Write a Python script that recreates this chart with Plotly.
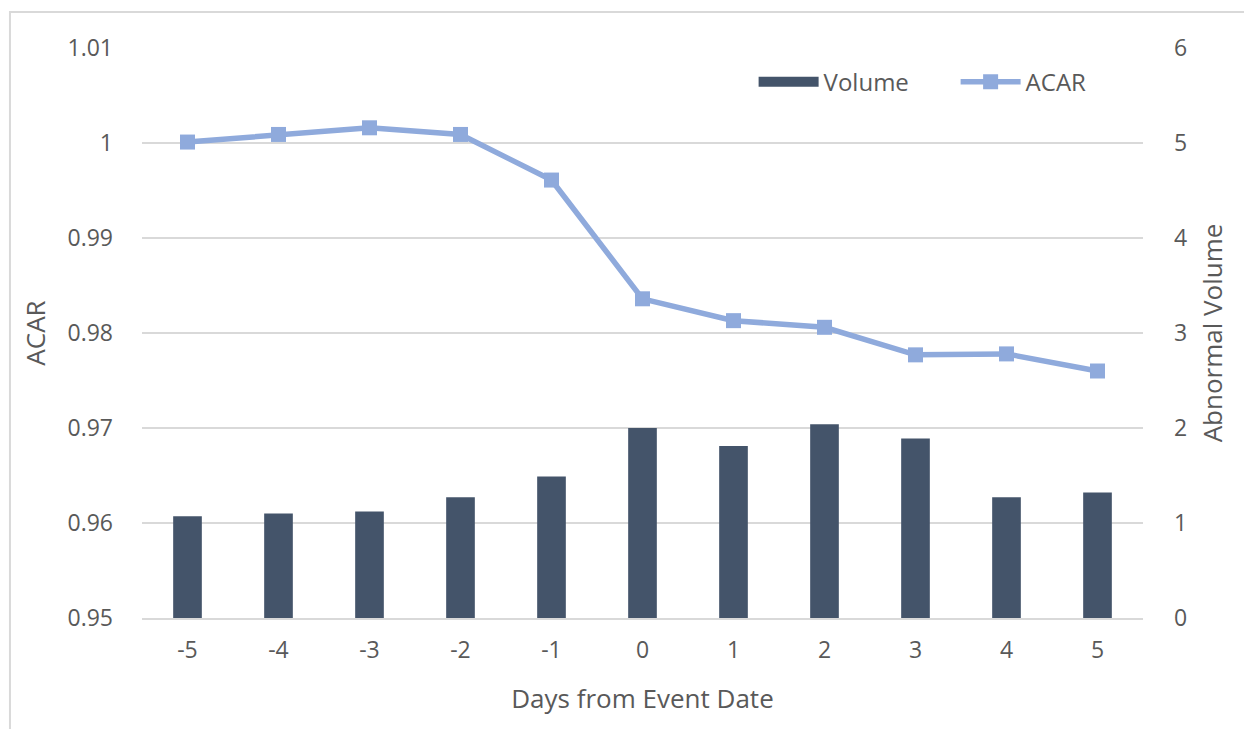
import plotly.graph_objects as go

# Event-study data: days relative to the event date
days = [-5, -4, -3, -2, -1, 0, 1, 2, 3, 4, 5]
abnormal_volume = [1.07, 1.10, 1.12, 1.27, 1.49, 2.00, 1.81, 2.04, 1.89, 1.27, 1.32]
acar = [1.0001, 1.0009, 1.0016, 1.0009, 0.9961, 0.9836, 0.9813, 0.9806, 0.9777, 0.9778, 0.9760]

left_ticks = [0.95, 0.96, 0.97, 0.98, 0.99, 1.0, 1.01]
left_tick_text = ["0.95", "0.96", "0.97", "0.98", "0.99", "1", "1.01"]
right_ticks = [0, 1, 2, 3, 4, 5, 6]

bar_color = "#44546A"
line_color = "#8FAADC"
text_color = "#595959"
grid_color = "#D9D9D9"
font_family = "Open Sans, Liberation Sans, sans-serif"

fig = go.Figure()

fig.add_trace(go.Bar(
    x=days, y=abnormal_volume, name="Volume", yaxis="y2",
    marker=dict(color=bar_color, line=dict(width=0)),
    width=0.315, showlegend=False, legendgroup="vol",
))

# Legend entry for the bars, drawn as a wide swatch
fig.add_trace(go.Scatter(
    x=[None], y=[None], name="Volume", yaxis="y2", mode="lines",
    line=dict(color=bar_color, width=14), legendgroup="vol",
))

fig.add_trace(go.Scatter(
    x=days, y=acar, name="ACAR", yaxis="y",
    mode="lines+markers",
    line=dict(color=line_color, width=5.5),
    marker=dict(symbol="square", size=15, color=line_color),
))

fig.update_layout(
    width=1244, height=729,
    margin=dict(l=142, r=101, t=48, b=111),
    paper_bgcolor="white", plot_bgcolor="white",
    font=dict(family=font_family, size=23, color=text_color),
    showlegend=True,
    legend=dict(
        orientation="h", x=0.611, y=0.94, xanchor="left", yanchor="middle",
        font=dict(size=24, color=text_color), bgcolor="rgba(0,0,0,0)",
        itemwidth=60, traceorder="normal",
        entrywidth=127, entrywidthmode="pixels",
    ),
    xaxis=dict(
        tickmode="array", tickvals=days, ticktext=[str(d) for d in days],
        range=[-5.5, 5.5], showgrid=False, zeroline=False,
        showline=True, linecolor=grid_color, linewidth=2,
        ticks="", ticklabelstandoff=10,
        title=dict(text="Days from Event Date", standoff=26,
                   font=dict(size=26, color=text_color)),
    ),
    yaxis=dict(
        range=[0.95, 1.01], tickmode="array", tickvals=left_ticks,
        ticktext=left_tick_text, showgrid=True, gridcolor=grid_color, gridwidth=2,
        zeroline=False, showline=False, ticks="", ticklabelstandoff=28,
        title=dict(text="ACAR", standoff=14, font=dict(size=26, color=text_color)),
    ),
    yaxis2=dict(
        range=[0, 6], tickmode="array", tickvals=right_ticks,
        overlaying="y", side="right", showgrid=False, zeroline=False,
        showline=False, ticks="", ticklabelstandoff=30,
        title=dict(text="Abnormal Volume", standoff=17,
                   font=dict(size=26, color=text_color)),
    ),
    bargap=0.6,
)

# Light frame around the chart area
fig.add_shape(
    type="rect", xref="paper", yref="paper",
    x0=-0.1319, x1=1.2, y0=-0.3, y1=1.0632,
    line=dict(color=grid_color, width=2), fillcolor="rgba(0,0,0,0)",
    layer="below",
)

fig.write_html("out.html")
